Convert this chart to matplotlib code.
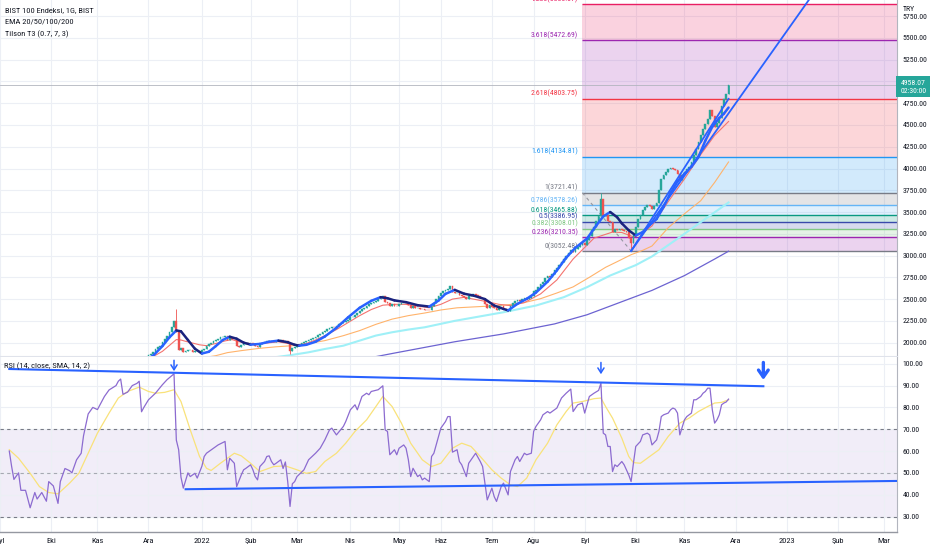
import numpy as np
import pandas as pd
import matplotlib
matplotlib.use('Agg')
import matplotlib.pyplot as plt
import matplotlib.transforms as mtransforms
from matplotlib.collections import LineCollection

plt.rcParams['font.family'] = ['Roboto Condensed', 'DejaVu Sans']

# Borsa Istanbul islem gunleri (hafta ici tatiller cikarildi)
tatiller = ['2021-10-29', '2022-05-02', '2022-05-03', '2022-05-04', '2022-05-19',
            '2022-07-11', '2022-07-12', '2022-07-15', '2022-08-30']
gunler = pd.bdate_range('2021-09-01', '2023-03-31')
gunler = gunler[~gunler.isin(pd.to_datetime(tatiller))]
# bar numarasi 0 = 1 Eylul 2021

# Gunluk kapanislar (grafikten okunan tahmini degerler)
aralik21 = [1862, 1875, 1889, 1927, 1950, 1965, 2004, 2042, 2081, 2119, 2176, 2253, 2120,
            1920, 1935, 1890, 1905, 1912, 1918, 1890, 1900, 1908, 1888]
ocak22 = [1915, 1930, 1965, 1980, 1995, 2015, 2035, 2045, 2060, 2068, 2080, 2030, 2055,
          2045, 2040, 1960, 1945, 1970, 1980, 1985, 1990]
subat22 = [1992, 1980, 1965, 1955, 1985, 2000, 2010, 2020, 2022, 2012, 2008, 2015, 2025,
           2030, 2010, 2020, 1990, 1900, 1935, 1945]
mart22 = [1960, 1975, 1990, 2005, 2020, 2030, 2040, 2055, 2070, 2085, 2100, 2118, 2130,
          2155, 2170, 2182, 2175, 2195, 2210, 2220, 2235, 2250, 2265]
nisan22 = [2290, 2300, 2320, 2338, 2360, 2385, 2400, 2425, 2440, 2452, 2465, 2483, 2500,
           2515, 2530, 2465, 2455, 2420, 2440, 2425, 2420]
mayis22 = [2445, 2455, 2460, 2452, 2430, 2400, 2415, 2395, 2400, 2390, 2385, 2380, 2375,
           2370, 2420, 2450, 2500, 2540]
haziran22 = [2570, 2590, 2605, 2615, 2650, 2580, 2565, 2575, 2545, 2530, 2520, 2500, 2535,
             2550, 2560, 2545, 2530, 2510, 2500, 2440, 2400, 2430]
temmuz22 = [2405, 2395, 2380, 2415, 2420, 2385, 2375, 2365, 2420, 2460, 2475, 2490, 2480,
            2500, 2510, 2505, 2515, 2530]
agustos22 = [2590, 2610, 2640, 2670, 2700, 2740, 2760, 2750, 2790, 2830, 2860, 2890, 2930,
             2965, 2990, 3030, 3060, 3040, 3080, 3095, 3120, 3140]
eylul22 = [3120, 3180, 3230, 3290, 3330, 3400, 3450, 3650, 3460, 3470, 3400, 3380, 3270,
           3300, 3290, 3310, 3295, 3285, 3270, 3200, 3150, 3240]
ekim22 = [3330, 3420, 3470, 3520, 3560, 3580, 3575, 3540, 3565, 3600, 3750, 3880, 3930,
          3960, 3990, 4005, 3995, 3985, 3940, 3870, 3920]
kasim22 = [3960, 3990, 4020, 4080, 4150, 4220, 4300, 4380, 4450, 4510, 4570, 4670, 4600,
           4480, 4520, 4580, 4720, 4800, 4860, 4958.07]
ilk_acilis = 1850
fitil_ust = {76: 2390, 259: 3721.41}
fitil_alt = {125: 1870, 272: 3052.48}

# EMA 20/50/100/200 (bar, deger)
ema20_bar = [64, 70, 74, 76, 78, 80, 83, 86, 89, 93, 97, 100, 103, 106, 110, 115, 120, 124,
             128, 132, 136, 140, 145, 150, 155, 160, 165, 170, 175, 180, 185, 190, 195, 200,
             204, 210, 215, 220, 226, 233, 240, 247, 256, 264, 268, 273, 277, 281, 288, 295,
             302, 308, 314]
ema20 = [1810, 1900, 1990, 2035, 2030, 2015, 1995, 1975, 1965, 1990, 2020, 2035, 2010, 1995,
         1985, 1995, 2010, 1990, 1975, 1990, 2030, 2080, 2150, 2230, 2310, 2380, 2430, 2440,
         2440, 2420, 2400, 2440, 2500, 2520, 2500, 2470, 2440, 2425, 2460, 2560, 2720, 2960,
         3200, 3270, 3265, 3215, 3260, 3340, 3620, 3880, 4160, 4380, 4540]
ema50_bar = [86, 93, 98, 104, 112, 119, 126, 133, 140, 148, 155, 162, 169, 176, 183, 190, 197,
             204, 211, 219, 226, 233, 240, 247, 254, 261, 266, 272, 277, 281, 288, 295, 302,
             308, 314]
ema50 = [1820, 1850, 1885, 1908, 1935, 1952, 1965, 1990, 2023, 2080, 2138, 2210, 2270, 2310,
         2340, 2375, 2400, 2410, 2420, 2435, 2460, 2505, 2570, 2640, 2750, 2865, 2930, 3010,
         3060, 3110, 3320, 3480, 3630, 3840, 4075]
ema100_bar = [118, 125, 133, 140, 148, 155, 162, 169, 176, 183, 196, 217, 231, 243, 253, 263,
              274, 281, 288, 295, 305, 314]
ema100 = [1830, 1855, 1889, 1927, 1965, 2023, 2081, 2119, 2150, 2176, 2250, 2349, 2426, 2522,
          2637, 2771, 2890, 2990, 3120, 3250, 3440, 3610]
ema200_bar = [155, 162, 170, 180, 196, 217, 239, 253, 267, 281, 295, 308, 314]
ema200 = [1800, 1839, 1880, 1930, 2010, 2100, 2215, 2320, 2460, 2600, 2770, 2960, 3050]

# Tilson T3
t3_bar = [62, 66, 70, 73, 76, 78, 81, 84, 87, 90, 93, 96, 99, 102, 105, 108, 112, 116, 120,
          124, 127, 129, 132, 136, 140, 145, 150, 155, 160, 164, 167, 170, 175, 180, 185, 189,
          192, 196, 200, 204, 209, 213, 217, 219, 223, 227, 231, 236, 240, 244, 248, 253, 257,
          260, 263, 266, 268, 271, 274, 277, 280, 283, 286, 289, 292, 295, 298, 301, 304, 307,
          310, 312, 314]
t3 = [1790, 1850, 1960, 2060, 2140, 2130, 2030, 1930, 1875, 1895, 1960, 2030, 2068, 2045, 2000,
      1977, 1985, 2010, 2023, 2005, 1975, 1965, 1975, 2010, 2070, 2170, 2290, 2400, 2480, 2522,
      2510, 2485, 2465, 2430, 2414, 2483, 2560, 2606, 2562, 2541, 2500, 2426, 2387, 2370, 2445,
      2503, 2575, 2700, 2829, 2975, 3090, 3195, 3345, 3450, 3500, 3440, 3370, 3290, 3231, 3270,
      3350, 3420, 3560, 3720, 3850, 3940, 4020, 4130, 4320, 4480, 4580, 4630, 4700]

# Fibonacci seviyeleri
fib_seviye = ['0', '0.236', '0.382', '0.5', '0.618', '0.786', '1', '1.618', '2.618', '3.618', '4.236']
fib_fiyat = [3052.48, 3210.35, 3308.01, 3386.95, 3465.88, 3578.26, 3721.41, 4134.81, 4803.75,
             5472.69, 5886.07]
fib_renk = ['#787b86', '#9c27b0', '#81c784', '#3949ab', '#089981', '#64b5f6', '#787b86',
            '#2196f3', '#f23645', '#9c27b0', '#e91e63']
fib_bar = [251, 272]

# fiyat trend cizgileri
trend_uzun_bar, trend_uzun = [272, 360], [3052.48, 6365]
trend_kisa_bar, trend_kisa = [272, 314], [3052.48, 4800]
son_fiyat = 4958.07

# RSI (14) ve SMA(14)
rsi_bar = [4, 5, 6, 8, 9, 11, 13, 15, 16, 18,
           20, 21, 23, 25, 26, 28, 30, 31, 33, 35,
           36, 38, 40, 42, 43, 45, 47, 50, 51, 52,
           53, 55, 57, 59, 60, 61, 62, 64, 67, 70,
           72, 75, 76, 77, 78, 79, 81, 82, 84, 85,
           87, 88, 89, 92, 94, 97, 98, 99, 101, 102,
           104, 105, 106, 108, 109, 110, 111, 112, 114, 115,
           116, 117, 118, 119, 121, 122, 123, 124, 125, 126,
           127, 128, 131, 133, 136, 138, 140, 142, 143, 145,
           148, 149, 151, 153, 154, 156, 158, 159, 160, 163,
           165, 166, 167, 168, 170, 171, 172, 174, 175, 176,
           177, 178, 180, 181, 182, 183, 185, 186, 187, 189,
           190, 192, 193, 194, 195, 197, 198, 199, 201, 202,
           204, 205, 207, 208, 209, 210, 212, 213, 214, 216,
           217, 219, 220, 222, 223, 224, 226, 227, 229, 230,
           231, 233, 234, 236, 237, 239, 240, 242, 244, 246,
           247, 249, 251, 252, 254, 256, 258, 259, 260, 261,
           262, 263, 264, 265, 266, 268, 269, 271, 272, 273,
           274, 276, 277, 279, 280, 281, 283, 284, 285, 286,
           288, 289, 290, 291, 292, 293, 295, 296, 298, 299,
           300, 302, 303, 304, 305, 306, 307, 308, 309, 310,
           311, 312, 313, 314]
rsi = [60, 53, 47, 50, 42, 42, 34, 41, 38, 41,
       37, 46, 44, 36, 46, 52, 51, 50, 56, 59,
       67, 77, 80, 79, 81, 85, 88, 90, 92, 93,
       86, 87, 90, 91, 92, 78, 80, 83.5, 86.5, 90.4,
       92.7, 95.4, 65, 60.6, 48, 43, 50, 48.3, 49.8, 47.6,
       53, 57.5, 59, 61.3, 62.8, 64.4, 51.4, 56.7, 54.4, 43.7,
       49.1, 51.4, 52.1, 53.7, 51.4, 48.3, 46.8, 52.9, 55.2, 57.5,
       57.8, 55.2, 53.7, 54.4, 56, 52, 55, 46, 34.6, 45,
       46, 48.3, 51.4, 56, 59, 61.3, 65.1, 69.7, 70.5, 67.4,
       71.3, 73.5, 78.9, 81.2, 78.9, 85, 86.5, 85.8, 87.3, 88.1,
       89.9, 69.7, 69, 58.3, 60.6, 58.3, 61.3, 62.8, 61.3, 56,
       48.3, 52.1, 48.3, 49.1, 46.8, 47.6, 46, 57.5, 59, 66.7,
       70.5, 73.5, 75.8, 75.8, 59.5, 60.6, 55.2, 53.7, 48.3, 54.4,
       57.5, 59, 55.2, 52.9, 45.3, 37.6, 43, 39.1, 36.9, 43.7,
       45.3, 39.9, 50.6, 56, 57.5, 55.2, 59, 58.3, 59, 69,
       71.3, 74.3, 76.6, 78.1, 77.4, 78.9, 79.7, 84.3, 86.5, 88.4,
       78.1, 81.2, 82, 77.4, 85, 86.5, 87.8, 91.1, 68.2, 67.4,
       62.1, 62.1, 50.6, 53.7, 52.9, 55.2, 53.7, 49, 46, 54.4,
       62.1, 64.4, 67.4, 68.2, 67.4, 62.8, 65.1, 69, 75.8, 76.6,
       77.4, 78.9, 79.7, 79.2, 77.4, 67.4, 74.3, 75.8, 77.4, 83.5,
       83.5, 85, 86.5, 87.3, 88.8, 88.8, 78.9, 72.8, 74.3, 76.6,
       81.2, 82, 82.5, 83.8]
rsi_ma_bar = [4, 8, 13, 17, 21, 25, 30, 34, 38, 42,
              47, 51, 55, 60, 64, 67, 71, 75, 78, 82,
              86, 89, 91, 95, 101, 104, 108, 112, 118, 123,
              128, 132, 136, 140, 145, 149, 153, 158, 162, 165,
              169, 173, 177, 182, 186, 190, 195, 199, 203, 207,
              212, 216, 220, 223, 227, 231, 236, 240, 244, 247,
              251, 256, 259, 261, 264, 268, 271, 273, 276, 280,
              284, 288, 293, 297, 301, 305, 308, 311, 314]
rsi_ma = [60.6, 56.7, 49.8, 43.7, 41, 40.4, 45.3, 49.8, 59, 68.2,
          77.4, 84.3, 87.3, 89.3, 87.3, 86.5, 86.9, 88.1, 82.7, 69.7,
          57.5, 52.1, 51.1, 54.4, 59, 57.8, 54.4, 50.6, 52.9, 53.2,
          51.4, 49.8, 50.6, 55.2, 59, 63.6, 69, 74.3, 80.4, 85,
          80.4, 72.8, 63.6, 56, 52.9, 54.4, 61.3, 63.6, 62.1, 57.5,
          51.4, 47.6, 44.5, 43.7, 47.6, 56, 63.6, 72, 78.1, 82,
          82.7, 84, 84.3, 80.4, 75.1, 65.9, 57.5, 54.7, 54.4, 57.5,
          60.6, 66.7, 72.8, 75.1, 78.1, 80.4, 82, 82.3, 83.5]
rsi_ust_bar, rsi_ust = [4, 329], [97.6, 89.7]
rsi_alt_bar, rsi_alt = [80, 387], [42.5, 46.3]
ok_bar = [75, 259, 329]
ok_bas = [101.6, 100.6, 100.6]
ok_uc = [96.6, 95.2, 92.6]
ok_buyuk = [False, False, True]

assert len(rsi_bar) == len(rsi) and len(rsi_ma_bar) == len(rsi_ma)
assert len(t3_bar) == len(t3) and len(ema20_bar) == len(ema20)

# ---------------------------------------------------------------
ilk_bar = gunler.get_loc(pd.Timestamp('2021-12-01'))
kapanis = np.array(aralik21 + ocak22 + subat22 + mart22 + nisan22 + mayis22 + haziran22 +
                   temmuz22 + agustos22 + eylul22 + ekim22 + kasim22, dtype=float)
assert len(kapanis) == gunler.get_loc(pd.Timestamp('2022-11-28')) - ilk_bar + 1
xb = np.arange(ilk_bar, ilk_bar + len(kapanis))
acilis = np.concatenate([[ilk_acilis], kapanis[:-1]])
yuksek = np.maximum(acilis, kapanis)
dusuk = np.minimum(acilis, kapanis)
for b, v in fitil_ust.items():
    yuksek[b - ilk_bar] = v
for b, v in fitil_alt.items():
    dusuk[b - ilk_bar] = v

x_sol, x_sag = 4.1, 386.6
W, H = 932, 550
fig = plt.figure(figsize=(W / 100, H / 100), dpi=100)
ax1 = fig.add_axes([0, 1 - 356 / H, 897 / W, 356 / H])
ax2 = fig.add_axes([0, 1 - 532 / H, 897 / W, 175 / H])

grid_renk = '#eceff5'
yazi = '#131722'
fs = 5.6

# ay etiketleri
seri = pd.Series(np.arange(len(gunler)), index=gunler)
ay_ilk = seri.groupby(gunler.to_period('M')).first()
ay_adlari = ['Oca', 'Şub', 'Mar', 'Nis', 'May', 'Haz', 'Tem', 'Ağu', 'Eyl', 'Eki', 'Kas', 'Ara']
etiketler = [str(p.year) if p.month == 1 else ay_adlari[p.month - 1] for p in ay_ilk.index]

for ax in (ax1, ax2):
    ax.set_xlim(x_sol, x_sag)
    ax.set_xticks(ay_ilk.values)
    ax.grid(True, color=grid_renk, lw=0.8)
    ax.set_axisbelow(True)
    ax.yaxis.tick_right()
    ax.tick_params(length=0, labelsize=fs, labelcolor=yazi)
    for s in ('top', 'left'):
        ax.spines[s].set_visible(False)
    ax.spines['right'].set_color('#b2b5be')
    ax.spines['right'].set_linewidth(0.8)

ax1.tick_params(labelbottom=False, pad=4)
ax1.spines['bottom'].set_color('#e0e3eb')
ax1.spines['bottom'].set_linewidth(0.8)
ax2.spines['bottom'].set_color('#9598a1')
ax2.spines['bottom'].set_linewidth(1)
ax2.set_xticklabels(etiketler)
ax2.tick_params(axis='x', pad=4, labelsize=6)
ax2.tick_params(axis='y', pad=4)

# ---- fiyat paneli
ax1.set_ylim(1846.4, 5935.5)
fiyat_tick = np.arange(2000, 5751, 250)
ax1.set_yticks(fiyat_tick, labels=[f'{t:.2f}' for t in fiyat_tick])

for i in range(1, len(fib_fiyat)):
    ax1.fill_between([fib_bar[0], x_sag], fib_fiyat[i - 1], fib_fiyat[i],
                     color=fib_renk[i], alpha=0.2, lw=0, zorder=1)
for s, p, c in zip(fib_seviye, fib_fiyat, fib_renk):
    ax1.hlines(p, fib_bar[0], x_sag, colors=c, lw=1, zorder=1.5)
    ax1.annotate(f'{s}({p:.2f})', xy=(fib_bar[0], p), xytext=(-3, 1.0),
                 textcoords='offset points', ha='right', va='bottom', color=c,
                 fontsize=fs, annotation_clip=False, clip_on=True)
ax1.plot(fib_bar, [fib_fiyat[6], fib_fiyat[0]], ls=(0, (3, 3)), color='#9598a1', lw=0.8, zorder=1.6)
ax1.axhline(son_fiyat, color='#b2b5be', lw=0.6, zorder=1.7)

ax1.plot(ema200_bar, ema200, color='#6c63d1', lw=0.9, zorder=2)
ax1.plot(ema100_bar, ema100, color='#9ff0f7', lw=1.5, zorder=2)
ax1.plot(ema50_bar, ema50, color='#ffb36b', lw=0.8, zorder=2)
ax1.plot(ema20_bar, ema20, color='#f4736f', lw=0.8, zorder=2)

renk = np.where(kapanis >= acilis, '#26a69a', '#ef5350')
ax1.vlines(xb, dusuk, yuksek, colors=renk, lw=0.6, zorder=3)
ax1.bar(xb, kapanis - acilis, bottom=acilis, width=0.75, color=renk, edgecolor=renk,
        lw=0.3, zorder=3)

t3_nok = np.column_stack([t3_bar, t3])
t3_seg = np.stack([t3_nok[:-1], t3_nok[1:]], axis=1)
t3_renk = ['#2962ff' if b >= a else '#1a237e' for a, b in zip(t3[:-1], t3[1:])]
ax1.add_collection(LineCollection(t3_seg, colors=t3_renk, lw=1.8, zorder=4, capstyle='round'))

ax1.plot(trend_uzun_bar, trend_uzun, color='#2962ff', lw=1.3, zorder=5)
ax1.plot(trend_kisa_bar, trend_kisa, color='#2962ff', lw=1.3, zorder=5)

kaynak = mtransforms.blended_transform_factory(ax1.transAxes, ax1.transData)
ax1.annotate(f'{son_fiyat:.2f}\n02:30:00', xy=(1.0, son_fiyat), xycoords=kaynak,
             xytext=(2.4, 3.8), textcoords='offset points', ha='left', va='top',
             fontsize=fs, color='white', linespacing=1.35, zorder=10,
             bbox=dict(boxstyle='square,pad=0.5', fc='#26a69a', ec='none'),
             annotation_clip=False)

# ---- RSI paneli
ax2.set_ylim(22.9, 103.1)
rsi_tick = np.arange(30, 101, 10)
ax2.set_yticks(rsi_tick, labels=[f'{t:.2f}' for t in rsi_tick])
ax2.axhspan(30, 70, color='#7e57c2', alpha=0.1, lw=0, zorder=0.5)
for seviye, a in ((70, 1), (50, 0.6), (30, 1)):
    ax2.axhline(seviye, color='#787b86', lw=0.8, ls=(0, (3, 3)), alpha=a, zorder=1)
ax2.plot(rsi_ma_bar, rsi_ma, color='#f9e27a', lw=0.9, zorder=2)
ax2.plot(rsi_bar, rsi, color='#8c6bd0', lw=0.9, zorder=3)
ax2.plot(rsi_ust_bar, rsi_ust, color='#2962ff', lw=1.5, zorder=4)
ax2.plot(rsi_alt_bar, rsi_alt, color='#2962ff', lw=1.5, zorder=4)
for b, y0, y1, buyuk in zip(ok_bar, ok_bas, ok_uc, ok_buyuk):
    stil = '->,head_length=0.5,head_width=0.35' if buyuk else '->,head_length=0.35,head_width=0.22'
    ax2.annotate('', xy=(b, y1), xytext=(b, y0),
                 arrowprops=dict(arrowstyle=stil, color='#2962ff', lw=2.4 if buyuk else 1.1,
                                 shrinkA=0, shrinkB=0), annotation_clip=False)
ax2.text(0.004, 0.945, 'RSI (14, close, SMA, 14, 2)', transform=ax2.transAxes,
         fontsize=6, color=yazi, va='center', zorder=6)

# ust sol bilgi yazilari
fig.text(5 / W, 1 - 10 / H, 'BIST 100 Endeksi, 1G, BIST', fontsize=6, color=yazi, va='center')
fig.text(5 / W, 1 - 22 / H, 'EMA 20/50/100/200', fontsize=6, color=yazi, va='center')
fig.text(5 / W, 1 - 34 / H, 'Tilson T3 (0.7, 7, 3)', fontsize=6, color=yazi, va='center')
fig.text(903 / W, 1 - 9 / H, 'TRY', fontsize=fs, color=yazi, va='center',
         bbox=dict(boxstyle='square,pad=0.3', fc='white', ec='none'))

fig.savefig('out.png', dpi=100)
